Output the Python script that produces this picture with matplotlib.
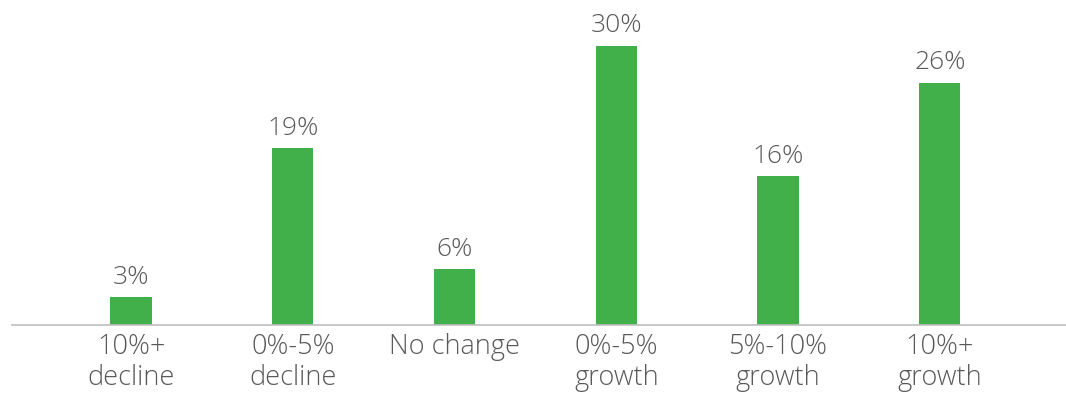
import matplotlib.pyplot as plt
import numpy as np

categories = ["10%+\ndecline", "0%-5%\ndecline", "No change",
              "0%-5%\ngrowth", "5%-10%\ngrowth", "10%+\ngrowth"]
shares = [3, 19, 6, 30, 16, 26]

plt.rcParams["font.family"] = ["Open Sans", "DejaVu Sans"]

fig = plt.figure(figsize=(10.66, 3.93), dpi=100)
ax = fig.add_axes([12 / 1066, 68 / 393, 1054 / 1066, 325 / 393])

x = np.arange(len(categories))
bars = ax.bar(x, shares, width=0.255, color="#42B04A", zorder=2)

for rect, value in zip(bars, shares):
    ax.text(rect.get_x() + rect.get_width() / 2, value + 0.8, f"{value}%",
            ha="center", va="bottom", fontsize=19, color="#595959",
            fontweight="light")

ax.set_xlim(-0.736, 5.78)
ax.set_ylim(0, 34.9)
ax.set_xticks(x)
ax.set_xticklabels(categories, fontsize=19.5, color="#595959",
                   fontweight="light", linespacing=1.15)
ax.tick_params(axis="x", length=0, pad=6)
ax.set_yticks([])

for side in ["top", "left", "right"]:
    ax.spines[side].set_visible(False)
ax.spines["bottom"].set_color("#BFBFBF")
ax.spines["bottom"].set_linewidth(1.2)

fig.savefig("out.png", dpi=100)
